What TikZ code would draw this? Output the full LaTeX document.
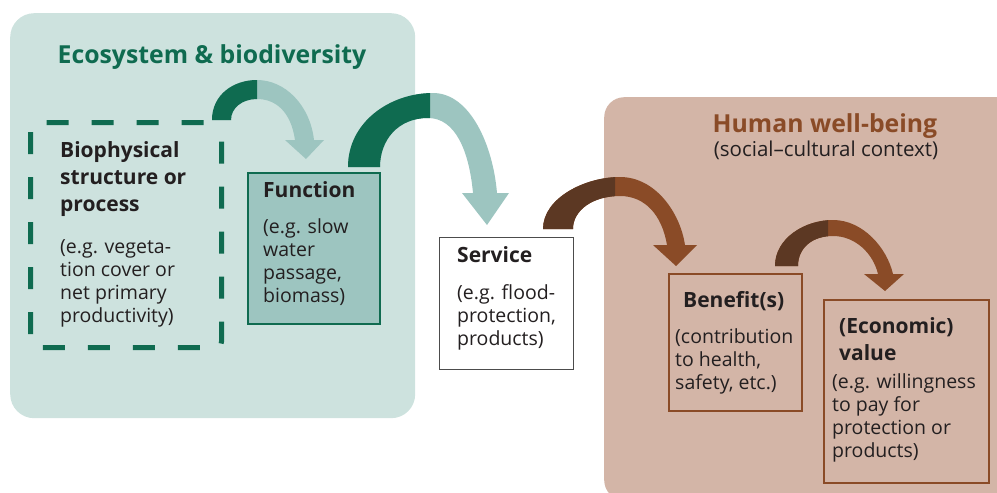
\documentclass[tikz,border=0pt]{standalone}
\usepackage{fontspec}
\setmainfont{Open Sans}
\definecolor{ecobg}{HTML}{CDE2DE}
\definecolor{dkgreen}{HTML}{0F6B50}
\definecolor{ltgreen}{HTML}{9DC5C0}
\definecolor{humbg}{HTML}{D3B5A7}
\definecolor{brownc}{HTML}{8A4B27}
\definecolor{dkbrown}{HTML}{5C3823}
\definecolor{txt}{HTML}{231F20}
\tikzset{
  boxnode/.style={draw, rectangle, inner sep=0pt, anchor=north west},
  lbl/.style={anchor=base west, inner sep=0pt, font=\fontsize{21}{27}\selectfont\bfseries, text=txt},
  bodytxt/.style={anchor=base west, inner sep=0pt, font=\fontsize{19.5}{23}\selectfont, text=txt},
  ttl/.style={anchor=base, inner sep=0pt, font=\fontsize{24.8}{28}\selectfont\bfseries},
}
\begin{document}
\begin{tikzpicture}[x=1pt,y=-1pt]
\useasboundingbox (0,0) rectangle (997,493);
\clip (0,0) rectangle (997,493);
% panels
\node[boxnode, draw=none, fill=ecobg, rounded corners=24pt, minimum width=405pt, minimum height=405pt] (eco) at (10,13) {};
\node[boxnode, draw=none, fill=humbg, rounded corners=20pt, minimum width=420pt, minimum height=403pt] (hum) at (604,97) {};
\node[ttl, text=dkgreen] (ecot) at (212,63) {Ecosystem \& biodiversity};
\node[ttl, text=brownc] (humt) at (825,132) {Human well-being};
\node[anchor=base, inner sep=0pt, font=\fontsize{20.5}{23}\selectfont, text=txt] (humc) at (826,156) {(social–cultural context)};
% boxes
\node[boxnode, draw=dkgreen, line width=5pt, dash pattern=on 22pt off 23pt, dash phase=33pt, rounded corners=6pt, minimum width=191pt, minimum height=225pt] (bio) at (28,120) {};
\node[boxnode, fill=ltgreen, draw=dkgreen, line width=1.5pt, minimum width=132pt, minimum height=151pt] (func) at (247,172) {};
\node[boxnode, fill=white, draw=black!70, line width=1.2pt, minimum width=134pt, minimum height=132pt] (serv) at (439,237) {};
\node[boxnode, draw=brownc, line width=1.5pt, minimum width=133pt, minimum height=137pt] (ben) at (668,273) {};
\node[boxnode, draw=brownc, line width=1.5pt, minimum width=165pt, minimum height=183pt] (eco2) at (823,299) {};
% texts
\node[lbl] (biol) at (60,157) {\begin{tabular}[t]{@{}l@{}}Biophysical\\structure or\\process\end{tabular}};
\node[bodytxt] (biob) at (60,253) {\begin{tabular}[t]{@{}l@{}}(e.g. vegeta-\\tion cover or\\net primary\\productivity)\end{tabular}};
\node[lbl] (funcl) at (263,197) {Function};
\node[bodytxt] (funcb) at (263,233) {\begin{tabular}[t]{@{}l@{}}(e.g. slow\\water\\passage,\\biomass)\end{tabular}};
\node[lbl] (servl) at (457,262) {Service};
\node[bodytxt] (servb) at (457,299) {\begin{tabular}[t]{@{}l@{}}(e.g. flood-\\protection,\\products)\end{tabular}};
\node[lbl] (benl) at (683,307) {Benefit(s)};
\node[bodytxt] (benb) at (675,343) {\begin{tabular}[t]{@{}l@{}}(contribution\\to health,\\safety, etc.)\end{tabular}};
\node[lbl] (ecol) at (839,333) {\begin{tabular}[t]{@{}l@{}}(Economic)\\value\end{tabular}};
\node[bodytxt] (ecob) at (832,388) {\begin{tabular}[t]{@{}l@{}}(e.g. willingness\\to pay for\\protection or\\products)\end{tabular}};
% arrow 1
\begin{scope}
\def\arrA{(212,120) .. controls (212,95) and (233,80) .. (257,80) .. controls (285,80) and (310,105) .. (314,140) -- (324,140) -- (306,159) -- (285,140) -- (295,140) .. controls (291,112) and (276,99) .. (257,99) .. controls (242,99) and (231,108) .. (231,120) -- cycle}
\fill[ltgreen] \arrA;
\clip (200,70) rectangle (257,130);
\fill[dkgreen] \arrA;
\end{scope}
% arrow 2
\begin{scope}
\def\arrB{(348,167) .. controls (348,122) and (390,93) .. (433,93) .. controls (470,93) and (493,145) .. (497,193) -- (509,193) -- (487,225) -- (462,193) -- (473,193) .. controls (469,150) and (455,118) .. (428,118) .. controls (398,118) and (380,140) .. (380,167) -- cycle}
\fill[ltgreen] \arrB;
\clip (340,85) rectangle (430,175);
\fill[dkgreen] \arrB;
\end{scope}
% arrow 3
\begin{scope}
\def\arrC{(543,229) .. controls (543,198) and (585,177) .. (620,177) .. controls (655,177) and (680,212) .. (685,245) -- (697,245) -- (676,266) -- (653,245) -- (667,245) .. controls (662,215) and (645,196) .. (620,196) .. controls (593,196) and (573,210) .. (573,229) -- cycle}
\fill[brownc] \arrC;
\clip (535,170) rectangle (615,235);
\fill[dkbrown] \arrC;
\end{scope}
% arrow 4
\begin{scope}
\def\arrD{(775,266) .. controls (775,238) and (805,220) .. (833,220) .. controls (863,220) and (887,248) .. (893,274) -- (904,274) -- (885,291) -- (864,274) -- (878,274) .. controls (873,253) and (855,236) .. (833,236) .. controls (812,236) and (798,248) .. (798,266) -- cycle}
\fill[brownc] \arrD;
\clip (765,210) rectangle (828,270);
\fill[dkbrown] \arrD;
\end{scope}
\end{tikzpicture}
\end{document}
